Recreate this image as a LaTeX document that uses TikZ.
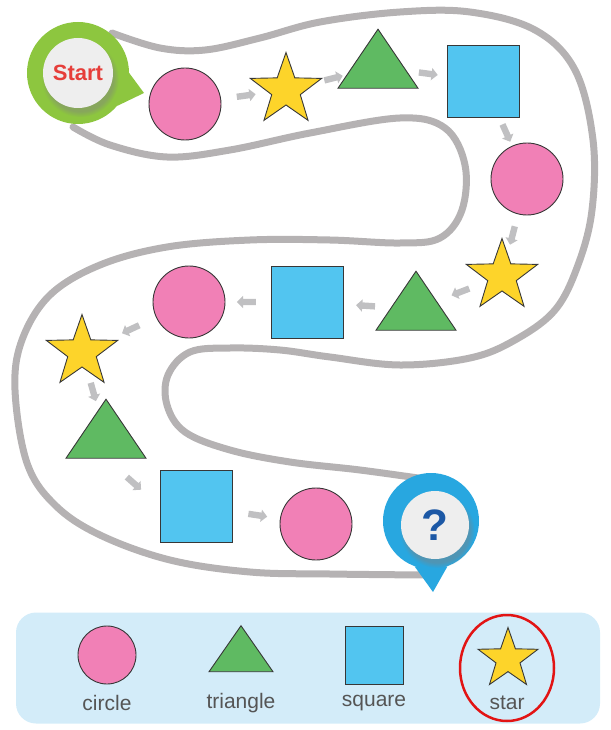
\documentclass[tikz,border=0pt]{standalone}
\usepackage{fontspec}
\usetikzlibrary{shapes.geometric,shapes.arrows,shadows}
\newfontfamily\labelfont{Liberation Sans}
\definecolor{shapepink}{RGB}{241,128,182}
\definecolor{shapeyellow}{RGB}{253,212,42}
\definecolor{shapegreen}{RGB}{95,186,98}
\definecolor{shapeblue}{RGB}{82,197,240}
\definecolor{outline}{RGB}{55,55,55}
\definecolor{roadgray}{RGB}{181,178,179}
\definecolor{arrowgray}{RGB}{192,192,194}
\definecolor{badgegreen}{RGB}{141,198,63}
\definecolor{badgeblue}{RGB}{40,167,224}
\definecolor{badgewhite}{RGB}{238,238,238}
\definecolor{startred}{RGB}{230,62,58}
\definecolor{qblue}{RGB}{28,88,165}
\definecolor{legendblue}{RGB}{211,236,249}
\definecolor{legendtext}{RGB}{85,85,85}
\definecolor{pickred}{RGB}{226,20,20}
\tikzset{
  shapebase/.style={draw=outline, line width=0.9pt, inner sep=0pt},
  circ/.style={shapebase, circle, fill=shapepink, minimum size=72pt},
  starry/.style={shapebase, star, star points=5, star point ratio=2.5, fill=shapeyellow, minimum size=75pt},
  tri/.style={shapebase, isosceles triangle, isosceles triangle stretches, shape border rotate=90, fill=shapegreen, minimum width=80pt, minimum height=59pt},
  sq/.style={shapebase, rectangle, fill=shapeblue, minimum size=72pt},
  flow/.style={single arrow, fill=arrowgray, minimum height=19pt, inner xsep=0pt, inner ysep=3pt, single arrow head extend=3pt, sloped, allow upside down},
  road/.style={draw=roadgray, line width=7pt, line cap=round},
  legendlabel/.style={font=\labelfont\fontsize{21}{21}\selectfont, text=legendtext, inner sep=0pt}
}
\begin{document}
\begin{tikzpicture}[x=1pt, y=-1pt]
  \useasboundingbox (0,0) rectangle (610,730);
  \draw[road] plot[smooth, tension=0.6] coordinates {(112,33) (160,48) (205,50) (260,38) (320,22) (400,12) (470,12) (535,30) (575,70) (593,140) (592,210) (578,265) (555,310) (515,340) (470,358) (400,365) (330,357) (280,350) (230,348) (190,352) (168,375) (167,405) (185,432) (230,450) (290,462) (360,470) (425,479)};
  \draw[road] plot[smooth, tension=0.6] coordinates {(73,127) (110,145) (167,157) (230,150) (310,133) (400,118) (445,128) (465,165) (462,210) (440,238) (400,243) (330,240) (250,240) (167,247) (100,265) (50,295) (22,340) (15,390) (27,463) (55,505) (100,535) (170,560) (250,572) (330,574) (425,575)};

  \node[circle, fill=badgegreen, minimum size=102pt] (start) at (78,73) {};
  \fill[badgegreen] (start.0) -- (144,93) -- (start.-40) -- cycle;
  \node[circle, fill=badgewhite, minimum size=70pt, circular drop shadow={shadow xshift=2pt, shadow yshift=-5pt, opacity=0.45}, text=startred, font=\labelfont\bfseries\fontsize{22}{22}\selectfont] (starttxt) at (78,73) {Start};

  \node[circ] (circ1) at (185,104) {};
  \node[starry] (star1) at (286,90) {};
  \node[tri] (tri1) at (378,67) {};
  \node[sq] (sq1) at (483,81) {};
  \node[circ] (circ2) at (527,179) {};
  \node[starry] (star2) at (502,276) {};
  \node[tri] (tri2) at (416,309) {};
  \node[sq] (sq2) at (307,302) {};
  \node[circ] (circ3) at (189,302) {};
  \node[starry] (star3) at (82,352) {};
  \node[tri] (tri3) at (106,437) {};
  \node[sq] (sq3) at (196,506) {};
  \node[circ] (circ4) at (316,524) {};

  \node[circle, fill=badgeblue, minimum size=96pt] (quest) at (431,521) {};
  \fill[badgeblue] (quest.-70) -- (433,592) -- (quest.-110) -- cycle;
  \node[circle, fill=badgewhite, minimum size=68pt, circular drop shadow={shadow xshift=2pt, shadow yshift=-5pt, opacity=0.45}, text=qblue, font=\labelfont\bfseries\fontsize{44}{44}\selectfont] (questtxt) at (435,525) {?};

  \path (circ1) -- node[flow]{} (star1);
  \path (star1) -- node[flow]{} (tri1);
  \path (tri1) -- node[flow]{} (sq1);
  \path (sq1) -- node[flow]{} (circ2);
  \path (circ2) -- node[flow]{} (star2);
  \path (star2) -- node[flow]{} (tri2);
  \path (tri2) -- node[flow]{} (sq2);
  \path (sq2) -- node[flow]{} (circ3);
  \path (circ3) -- node[flow]{} (star3);
  \path (star3) -- node[flow]{} (tri3);
  \path (tri3.south) -- node[flow]{} (sq3.west);
  \path (sq3) -- node[flow]{} (circ4);

  \node[fill=legendblue, rounded corners=20pt, minimum width=584pt, minimum height=111pt] (legend) at (308,668) {};
  \node[circ, minimum size=58pt] (keycirc) at (107,655) {};
  \node[tri, minimum width=64pt, minimum height=46pt] (keytri) at (241,655) {};
  \node[sq, minimum size=58pt] (keysq) at (374,655) {};
  \node[starry, minimum size=63pt] (keystar) at (508,659) {};
  \node[legendlabel] (keycirclbl) at (107,703) {circle};
  \node[legendlabel] (keytrilbl) at (241,703) {triangle};
  \node[legendlabel] (keysqlbl) at (374,703) {square};
  \node[legendlabel] (keystarlbl) at (507,703) {star};
  \node[ellipse, draw=pickred, line width=2.5pt, minimum width=94pt, minimum height=106pt] (pick) at (507,668) {};
\end{tikzpicture}
\end{document}
